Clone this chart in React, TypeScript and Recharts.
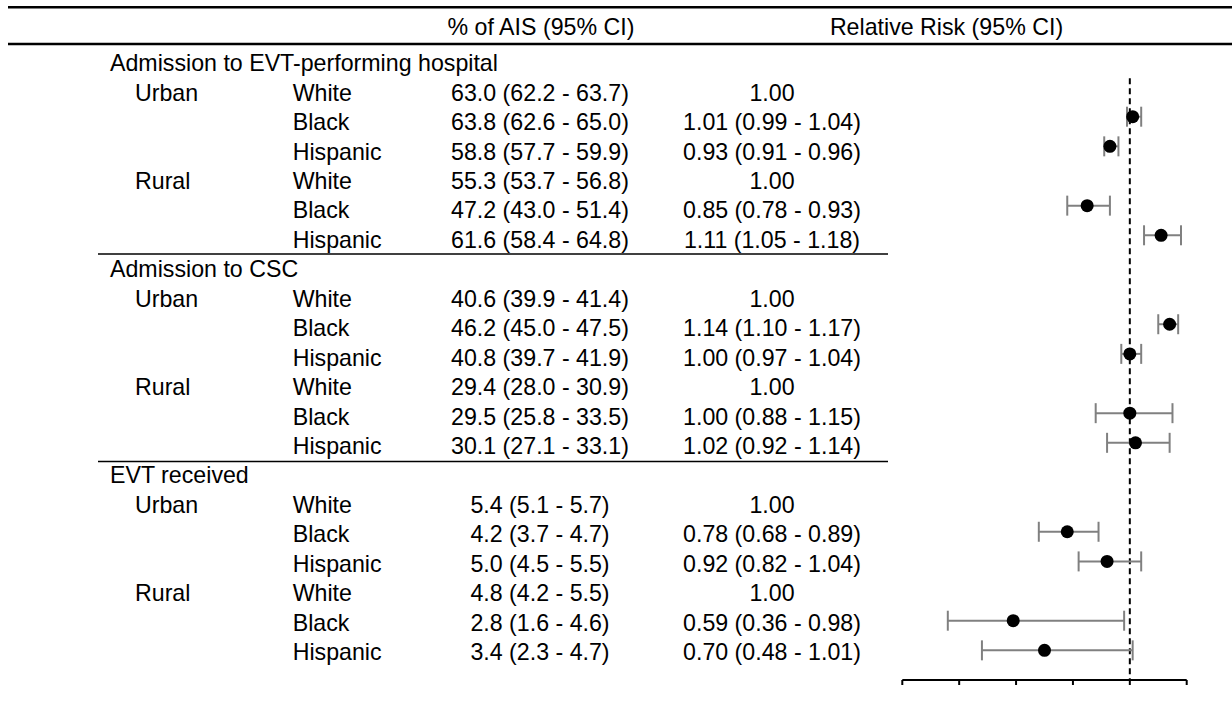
import React from 'react';
import { ScatterChart, Scatter, XAxis, YAxis, ErrorBar, ReferenceLine } from 'recharts';

// ---------- data ----------
const columnHeaders = ['% of AIS (95% CI)', 'Relative Risk (95% CI)'];
const sections = ['Admission to EVT-performing hospital', 'Admission to CSC', 'EVT received'];
const areas = ['Urban', '', '', 'Rural', '', ''];
const races = ['White', 'Black', 'Hispanic', 'White', 'Black', 'Hispanic'];

const pctLabels = [
  ['63.0 (62.2 - 63.7)', '63.8 (62.6 - 65.0)', '58.8 (57.7 - 59.9)', '55.3 (53.7 - 56.8)', '47.2 (43.0 - 51.4)', '61.6 (58.4 - 64.8)'],
  ['40.6 (39.9 - 41.4)', '46.2 (45.0 - 47.5)', '40.8 (39.7 - 41.9)', '29.4 (28.0 - 30.9)', '29.5 (25.8 - 33.5)', '30.1 (27.1 - 33.1)'],
  ['5.4 (5.1 - 5.7)', '4.2 (3.7 - 4.7)', '5.0 (4.5 - 5.5)', '4.8 (4.2 - 5.5)', '2.8 (1.6 - 4.6)', '3.4 (2.3 - 4.7)'],
];

const rrLabels = [
  ['1.00', '1.01 (0.99 - 1.04)', '0.93 (0.91 - 0.96)', '1.00', '0.85 (0.78 - 0.93)', '1.11 (1.05 - 1.18)'],
  ['1.00', '1.14 (1.10 - 1.17)', '1.00 (0.97 - 1.04)', '1.00', '1.00 (0.88 - 1.15)', '1.02 (0.92 - 1.14)'],
  ['1.00', '0.78 (0.68 - 0.89)', '0.92 (0.82 - 1.04)', '1.00', '0.59 (0.36 - 0.98)', '0.70 (0.48 - 1.01)'],
];

const rrPoint = [
  [null, 1.01, 0.93, null, 0.85, 1.11],
  [null, 1.14, 1.0, null, 1.0, 1.02],
  [null, 0.78, 0.92, null, 0.59, 0.7],
];
const rrLow = [
  [null, 0.99, 0.91, null, 0.78, 1.05],
  [null, 1.1, 0.97, null, 0.88, 0.92],
  [null, 0.68, 0.82, null, 0.36, 0.48],
];
const rrHigh = [
  [null, 1.04, 0.96, null, 0.93, 1.18],
  [null, 1.17, 1.04, null, 1.15, 1.14],
  [null, 0.89, 1.04, null, 0.98, 1.01],
];

const xTicks = [0.2, 0.4, 0.6, 0.8, 1.0, 1.2];

// ---------- derived ----------
const ROWS_PER_SECTION = races.length + 1;
const rowTicks: number[] = [];
sections.forEach((_, s) => {
  for (let j = 0; j < ROWS_PER_SECTION; j++) rowTicks.push(s * ROWS_PER_SECTION + j);
});

const points: { x: number; y: number; err: [number, number] }[] = [];
sections.forEach((_, s) => {
  races.forEach((__, j) => {
    const v = rrPoint[s][j];
    if (v !== null) {
      points.push({
        x: v,
        y: s * ROWS_PER_SECTION + 1 + j,
        err: [v - (rrLow[s][j] as number), (rrHigh[s][j] as number) - v],
      });
    }
  });
});

// ---------- styles ----------
const FONT = '"Liberation Sans", Arial, Helvetica, sans-serif';
const FS = 23.2;
const COL_SECTION = 110;
const COL_AREA = 135;
const COL_RACE = 292.7;
const COL_PCT = 540;
const COL_RR = 772;

const RowTick = (props: any) => {
  const { y, payload } = props;
  const i = Number(payload && payload.value);
  const s = Math.floor(i / ROWS_PER_SECTION);
  const j = i % ROWS_PER_SECTION;
  const ty = y + 13.9 - 0.21 * i;
  const common = { fontFamily: FONT, fontSize: FS, fill: '#000', stroke: 'none' };
  if (j === 0) {
    return (
      <g>
        {s > 0 && <line x1={98} x2={888} y1={y - 11} y2={y - 11} stroke="#000" strokeWidth={1.5} />}
        <text x={COL_SECTION} y={ty} textAnchor="start" {...common}>{sections[s]}</text>
      </g>
    );
  }
  const k = j - 1;
  return (
    <g>
      {areas[k] ? <text x={COL_AREA} y={ty} textAnchor="start" {...common}>{areas[k]}</text> : null}
      <text x={COL_RACE} y={ty} textAnchor="start" {...common}>{races[k]}</text>
      <text x={COL_PCT} y={ty} textAnchor="middle" {...common}>{pctLabels[s][k]}</text>
      <text x={COL_RR} y={ty} textAnchor="middle" {...common}>{rrLabels[s][k]}</text>
    </g>
  );
};

const Dot = (p: any) => <circle cx={p.cx} cy={p.cy} r={6.5} fill="#000" />;

export default function App() {
  const W = 1232;
  const H = 722;
  const lastRow = rowTicks.length;
  return (
    <div style={{ position: 'absolute', left: 0, top: 0, width: W, height: H, background: '#fff' }}>
      <ScatterChart
        width={W}
        height={H}
        margin={{ top: 57.4, right: 45.3, bottom: 22, left: 882.3 }}
      >
        <XAxis
          type="number"
          dataKey="x"
          domain={[0.2, 1.2]}
          ticks={xTicks}
          interval={0}
          height={20}
          tickSize={5}
          tickFormatter={() => ''}
          axisLine={{ stroke: '#000', strokeWidth: 2 }}
          tickLine={{ stroke: '#000', strokeWidth: 2 }}
        />
        <YAxis
          type="number"
          dataKey="y"
          domain={[0, lastRow]}
          reversed
          ticks={rowTicks}
          interval={0}
          width={20}
          axisLine={false}
          tickLine={false}
          tick={(p: any) => <RowTick {...p} />}
        />
        <ReferenceLine
          segment={[{ x: 1, y: 0.7 }, { x: 1, y: lastRow }]}
          stroke="#000"
          strokeWidth={2}
          strokeDasharray="6 4"
        />
        <Scatter data={points} isAnimationActive={false} shape={Dot}>
          <ErrorBar dataKey="err" direction="x" width={10} stroke="#808080" strokeWidth={2} />
        </Scatter>
      </ScatterChart>
      <svg
        width={W}
        height={H}
        style={{ position: 'absolute', left: 0, top: 0, pointerEvents: 'none' }}
      >
        <line x1={8} x2={W} y1={7.3} y2={7.3} stroke="#000" strokeWidth={2.5} />
        <line x1={8} x2={W} y1={44} y2={44} stroke="#000" strokeWidth={2.5} />
        <text x={541} y={35} textAnchor="middle" fontFamily={FONT} fontSize={FS} fill="#000">{columnHeaders[0]}</text>
        <text x={946.5} y={35} textAnchor="middle" fontFamily={FONT} fontSize={FS} fill="#000">{columnHeaders[1]}</text>
      </svg>
    </div>
  );
}
